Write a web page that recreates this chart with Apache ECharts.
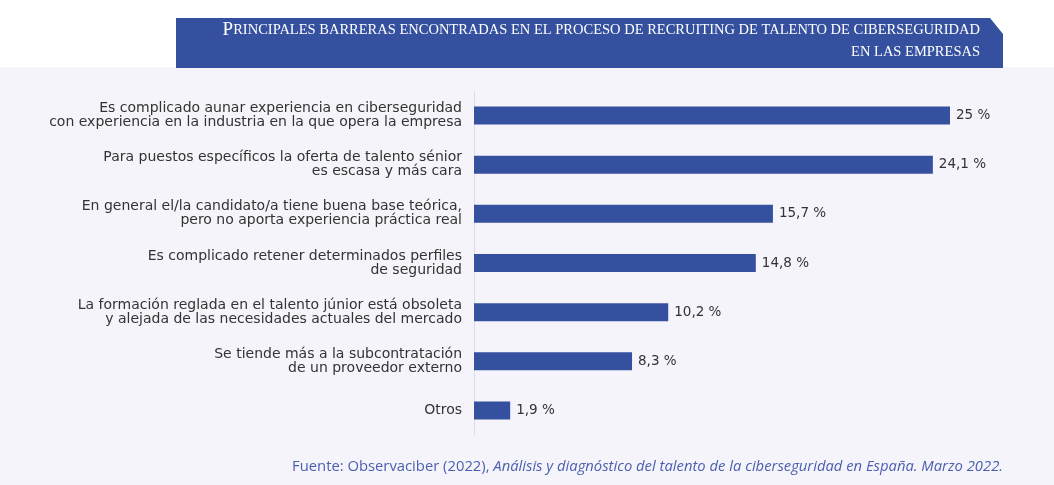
<!DOCTYPE html><html><head><meta charset="utf-8"><script src="https://cdn.jsdelivr.net/npm/echarts@6/dist/echarts.min.js"></script>
<style>body{margin:0;background:#fff}#c{width:1054px;height:485px}</style></head><body><div id="c"></div><script>
const categories=["Es complicado aunar experiencia en ciberseguridad\ncon experiencia en la industria en la que opera la empresa","Para puestos específicos la oferta de talento sénior\nes escasa y más cara","En general el/la candidato/a tiene buena base teórica,\npero no aporta experiencia práctica real","Es complicado retener determinados perfiles\nde seguridad","La formación reglada en el talento júnior está obsoleta\ny alejada de las necesidades actuales del mercado","Se tiende más a la subcontratación\nde un proveedor externo","Otros"];
const values=[25,24.1,15.7,14.8,10.2,8.3,1.9];
const c=echarts.init(document.getElementById('c'));
const F='"Open Sans", sans-serif';
const L='"DejaVu Sans", sans-serif';
c.setOption({animation:false,
graphic:[
{type:'rect',shape:{x:0,y:67,width:1054,height:418},style:{fill:'#f4f4fa'},z:-10},
{type:'polygon',shape:{points:[[176,18],[990,18],[1003,34],[1003,68],[176,68]]},style:{fill:'#34509e'}},
{type:'text',right:74,top:21,style:{text:'{b|P}{s|RINCIPALES BARRERAS ENCONTRADAS EN EL PROCESO DE RECRUITING DE TALENTO DE CIBERSEGURIDAD}\n{s|EN LAS EMPRESAS}',align:'right',fill:'#fff',rich:{b:{fontSize:19,fontFamily:'"Liberation Serif",serif',fill:'#fff',lineHeight:22},s:{fontSize:14.5,fontFamily:'"Liberation Serif",serif',fill:'#fff',lineHeight:22,align:'right'}}}},
{type:'text',right:51,top:459,style:{text:'{n|Fuente: Observaciber (2022), }{i|Análisis y diagnóstico del talento de la ciberseguridad en España. Marzo 2022.}',rich:{n:{fontSize:14.8,fontFamily:F,fill:'#4a5fb0'},i:{fontSize:14.8,fontFamily:F,fontStyle:'italic',fill:'#4a5fb0'}}}}
],
grid:{left:474,right:104,top:91,bottom:50},
xAxis:{type:'value',min:0,max:25,show:false},
yAxis:{type:'category',inverse:true,data:categories,axisTick:{show:false},axisLine:{lineStyle:{color:'#dcdcec'}},
axisLabel:{fontSize:14,fontFamily:L,color:'#333',margin:12,lineHeight:14,align:'right'}},
series:[{type:'bar',data:values,barWidth:18,itemStyle:{color:'#34509e'},
label:{show:true,position:'right',distance:6,fontSize:13.5,fontFamily:L,color:'#333',formatter:p=>String(p.value).replace('.',',')+' %'}}]
});
</script></body></html>
